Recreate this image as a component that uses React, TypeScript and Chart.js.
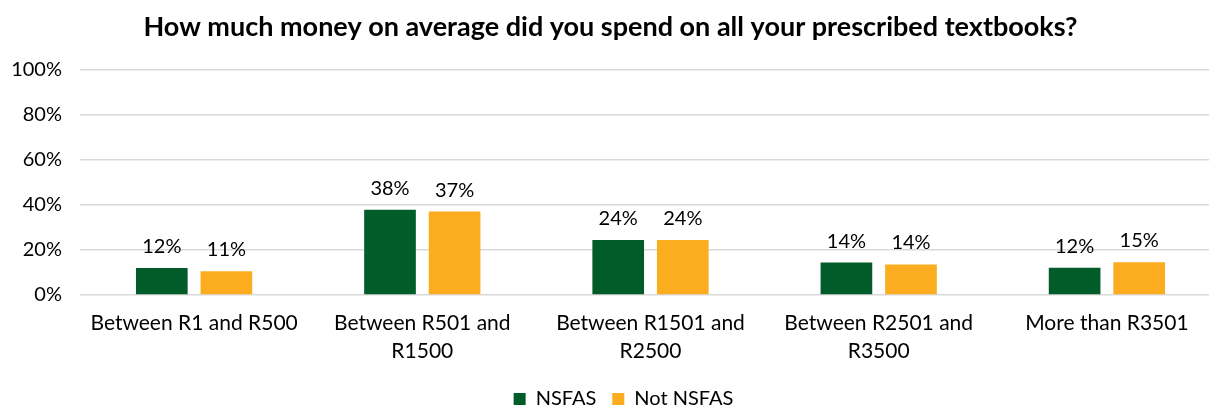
import React, { useEffect, useRef } from "react";
import { Chart, registerables } from "chart.js";

Chart.register(...registerables);

const categories: (string | string[])[] = [
  "Between R1 and R500",
  ["Between R501 and", "R1500"],
  ["Between R1501 and", "R2500"],
  ["Between R2501 and", "R3500"],
  "More than R3501",
];
const nsfas = [12.0, 37.9, 24.4, 14.4, 12.1];
const notNsfas = [10.6, 37.1, 24.4, 13.6, 14.6];
const yTicks = [0, 20, 40, 60, 80, 100];

const FONT = "Lato, 'Open Sans', sans-serif";

const dataLabels = {
  id: "dataLabels",
  afterDatasetsDraw(chart: any) {
    const ctx = chart.ctx;
    ctx.save();
    ctx.font = `20px ${FONT}`;
    ctx.fillStyle = "#000";
    ctx.textAlign = "center";
    ctx.textBaseline = "alphabetic";
    chart.data.datasets.forEach((ds: any, i: number) => {
      const meta = chart.getDatasetMeta(i);
      meta.data.forEach((bar: any, j: number) => {
        const v = Math.round(ds.data[j]);
        ctx.fillText(`${v}%`, bar.x, bar.y - 15);
      });
    });
    ctx.restore();
  },
};

const legendShift = {
  id: "legendShift",
  beforeLayout(chart: any) {
    const lg = chart.legend;
    if (lg && !lg.__patched) {
      const f = lg.fit;
      lg.fit = function (this: any) {
        f.call(this);
        this.height = Math.max(this.height - 12, 0);
      };
      lg.__patched = true;
    }
  },
  afterLayout(chart: any) {
    const lg = chart.legend;
    if (lg) {
      lg.left += 13;
      lg.right += 13;
    }
  },
};

export default function App() {
  const ref = useRef<HTMLCanvasElement | null>(null);
  useEffect(() => {
    document.body.style.margin = "0";
    document.body.style.overflow = "hidden";
    if (!ref.current) return;
    const chart = new Chart(ref.current, {
      type: "bar",
      data: {
        labels: categories,
        datasets: [
          {
            label: "NSFAS",
            data: nsfas,
            backgroundColor: "#025C2A",
            barPercentage: 0.8,
            categoryPercentage: 0.566,
          },
          {
            label: "Not NSFAS",
            data: notNsfas,
            backgroundColor: "#FBAC1F",
            barPercentage: 0.8,
            categoryPercentage: 0.566,
          },
        ],
      },
      options: {
        responsive: false,
        animation: false,
        layout: { padding: { left: 0, right: 0, top: 4, bottom: 0 } },
        plugins: {
          title: {
            display: true,
            text: "How much money on average did you spend on all your prescribed textbooks?",
            color: "#000",
            font: { family: FONT, size: 27, weight: "bold" },
            padding: { top: 7, bottom: 26.6 },
          },
          legend: {
            position: "bottom",
            labels: {
              boxWidth: 12,
              boxHeight: 12,
              color: "#000",
              font: { family: FONT, size: 20 },
              padding: 16,
            },
          },
          tooltip: { enabled: false },
        },
        scales: {
          x: {
            grid: { display: false },
            border: { display: false },
            afterFit: (axis: any) => {
              axis.height = 78;
            },
            ticks: {
              color: "#000",
              font: { family: FONT, size: 21, lineHeight: 1.3 },
              padding: 7,
              maxRotation: 0,
              autoSkip: false,
            },
          },
          y: {
            min: 0,
            max: 100,
            afterBuildTicks: (axis: any) => {
              axis.ticks = yTicks.map((v) => ({ value: v }));
            },
            afterFit: (axis: any) => {
              axis.width = 80;
            },
            grid: { color: "#d9d9d9", lineWidth: 1.5, drawTicks: false },
            border: { display: false },
            ticks: {
              color: "#000",
              font: { family: FONT, size: 20 },
              padding: 18,
              callback: (v: any) => `${v}%`,
            },
          },
        },
      },
      plugins: [dataLabels, legendShift],
    });
    return () => chart.destroy();
  }, []);
  return <canvas ref={ref} width={1221} height={407} style={{ display: "block" }} />;
}
